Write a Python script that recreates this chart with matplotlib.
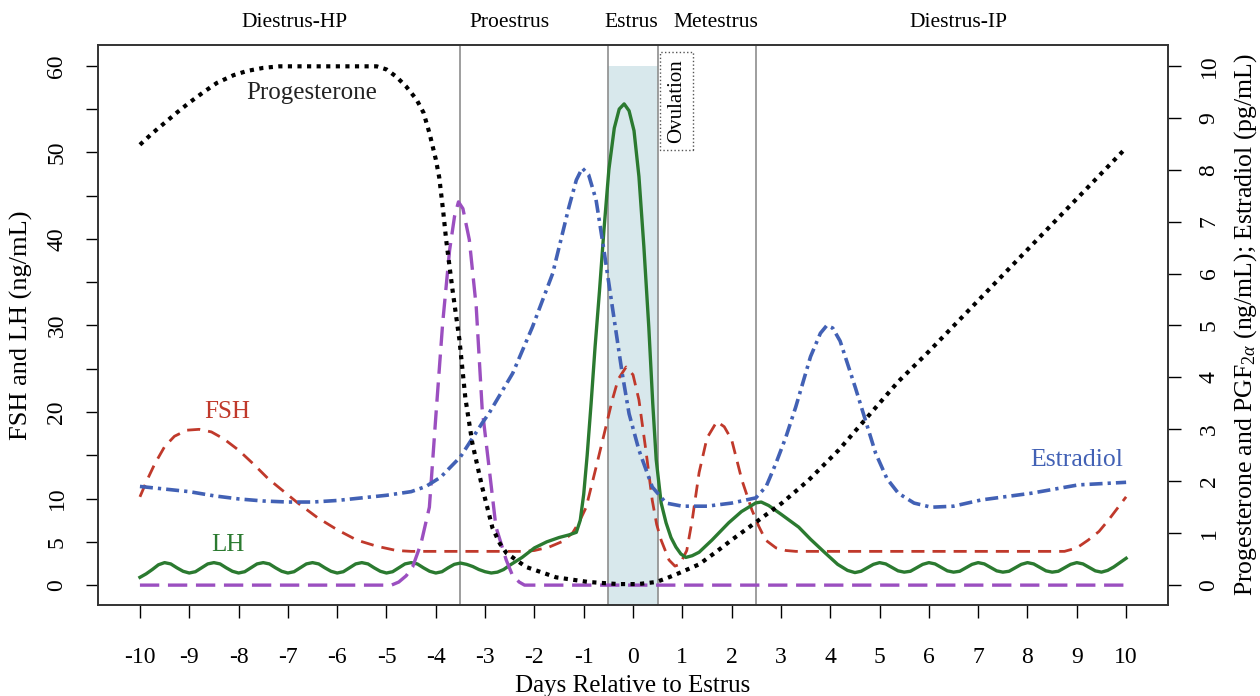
import numpy as np
import matplotlib
matplotlib.use('Agg')
import matplotlib.pyplot as plt
from matplotlib.transforms import blended_transform_factory

plt.rcParams['font.family'] = ['Liberation Serif', 'DejaVu Serif']
plt.rcParams['mathtext.fontset'] = 'custom'
plt.rcParams['mathtext.rm'] = 'Liberation Serif'
plt.rcParams['mathtext.it'] = 'Liberation Serif:italic'

# ---- data ----
day_ticks = list(range(-10, 11))
phase_names = ['Diestrus-HP', 'Proestrus', 'Estrus', 'Metestrus', 'Diestrus-IP']
phase_label_x = [-6.87, -2.51, -0.04, 1.68, 6.6]
phase_bounds = [-3.5, -0.5, 0.5, 2.5]

# FSH (ng/mL, left axis)
fsh_x = [-10, -9.85, -9.7, -9.5, -9.3, -9.05, -8.8, -8.55, -8.3, -8.0, -7.7, -7.4, -7.1, -6.8,
         -6.4, -6.0, -5.6, -5.2, -4.8, -4.5, -2.2, -2.0, -1.7, -1.45, -1.23, -1.1, -0.95, -0.75,
         -0.55, -0.42, -0.3, -0.14, 0.0, 0.12, 0.26, 0.39, 0.48, 0.57, 0.73, 0.85, 0.95, 1.09,
         1.2, 1.34, 1.5, 1.7, 1.85, 2.0, 2.21, 2.41, 2.55, 2.69, 2.9, 3.1, 3.3, 8.75, 9.0, 9.23,
         9.45, 9.64, 9.8, 10]
fsh_y = [10.2, 12.2, 14.0, 16.0, 17.2, 17.9, 18.0, 17.7, 16.9, 15.6, 14.0, 12.3, 10.9, 9.5,
         7.8, 6.4, 5.2, 4.5, 4.0, 3.9, 3.9, 4.0, 4.4, 5.0, 6.0, 7.2, 9.0, 13.6,
         18.3, 21.4, 23.8, 25.2, 24.3, 21.4, 15.6, 9.8, 7.0, 5.2, 2.9, 2.2, 2.4, 4.0,
         7.5, 13.0, 17.0, 18.9, 18.3, 16.8, 12.1, 8.7, 6.8, 5.2, 4.3, 4.0, 3.9, 3.9, 4.3, 5.2,
         6.2, 7.5, 8.7, 10.2]

# LH (ng/mL, left axis)
lh_x = list(np.arange(-10, -3.49, 0.125)) + \
       [-3.375, -3.25, -3.125, -3.0, -2.875, -2.75, -2.625, -2.5, -2.25, -2.0, -1.75, -1.5, -1.3,
        -1.15, -1.07, -1.0, -0.93, -0.85, -0.77, -0.68, -0.59, -0.49, -0.38, -0.28, -0.18, -0.08,
        0.02, 0.12, 0.22, 0.32, 0.4, 0.47, 0.57, 0.67, 0.77, 0.87, 0.97, 1.07, 1.2, 1.34, 1.6,
        1.94, 2.2, 2.49, 2.6, 2.75, 3.0, 3.36, 3.6, 3.9, 4.15, 4.35] + \
       list(np.arange(4.5, 10.01, 0.125))
lh_y = [0.9, 1.3, 1.8, 2.35, 2.6, 2.45, 2.0, 1.6,
        1.4, 1.55, 2.0, 2.45, 2.6, 2.45, 2.0, 1.6,
        1.4, 1.55, 2.0, 2.45, 2.6, 2.45, 2.0, 1.6,
        1.4, 1.55, 2.0, 2.45, 2.6, 2.45, 2.0, 1.6,
        1.4, 1.55, 2.0, 2.45, 2.6, 2.45, 2.0, 1.6,
        1.4, 1.55, 2.0, 2.45, 2.6, 2.45, 2.0, 1.6,
        1.4, 1.55, 2.0, 2.4, 2.55,
        2.4, 2.15, 1.8, 1.55, 1.4, 1.5, 1.8, 2.3, 3.2, 4.3, 5.0, 5.5, 5.8,
        6.1, 7.5, 10.5, 15.0, 21.0, 27.5, 34.0, 41.0, 48.0, 52.8, 55.0, 55.6, 54.8,
        52.5, 47.2, 39.1, 29.8, 21.0, 14.5, 9.5, 7.2, 5.5, 4.4, 3.6, 3.2, 3.4, 3.8, 5.2,
        7.2, 8.5, 9.5, 9.6, 9.2, 8.2, 6.7, 5.3, 3.7, 2.4, 1.7,
        1.45, 1.6, 2.0, 2.4, 2.6, 2.45, 2.05, 1.65,
        1.5, 1.6, 2.0, 2.4, 2.6, 2.45, 2.05, 1.65,
        1.5, 1.6, 2.0, 2.4, 2.6, 2.45, 2.05, 1.65,
        1.5, 1.6, 2.0, 2.4, 2.6, 2.45, 2.05, 1.65,
        1.5, 1.6, 2.0, 2.4, 2.6, 2.45, 2.05, 1.65,
        1.5, 1.7, 2.1, 2.6, 3.1]

# Progesterone (ng/mL, right axis)
p4_x = [-10, -9.75, -9.5, -9.25, -9.0, -8.7, -8.44, -8.1, -7.83, -7.5, -7.17, -5.2, -5.0, -4.8,
        -4.6, -4.39, -4.25, -4.13, -4.0, -3.93, -3.85, -3.79, -3.66, -3.52, -3.4, -3.26, -3.06,
        -2.85, -2.7, -2.57, -2.17, -1.56, -0.9, -0.3, 0.1, 0.47, 0.7, 0.93, 1.34, 1.7, 2.0,
        2.49, 3.02, 3.56, 4.17, 4.72, 5.38, 6, 7, 8, 9, 10]
p4_y = [8.48, 8.7, 8.9, 9.1, 9.29, 9.5, 9.67, 9.82, 9.9, 9.96, 9.99, 9.99, 9.93, 9.79,
        9.6, 9.35, 9.1, 8.71, 8.2, 7.85, 7.2, 6.65, 5.68, 4.72, 3.6, 2.74, 1.89,
        1.1, 0.8, 0.62, 0.35, 0.15, 0.06, 0.02, 0.02, 0.06, 0.14, 0.23, 0.4, 0.65, 0.87,
        1.21, 1.58, 2.02, 2.6, 3.2, 3.92, 4.5, 5.48, 6.46, 7.44, 8.42]

# Estradiol (pg/mL, right axis)
e2_x = [-10, -9.5, -9.0, -8.5, -8.0, -7.5, -7.0, -6.5, -6.0, -5.5, -5.0, -4.5, -4.2, -3.9, -3.5,
        -3.06, -2.92, -2.44, -2.04, -1.63, -1.3, -1.15, -1.03, -0.9, -0.75, -0.59, -0.42, -0.22,
        -0.08, 0.12, 0.39, 0.67, 1.0, 1.5, 2.0, 2.49, 2.7, 2.9, 3.1, 3.3, 3.6, 3.8, 3.93, 4.05,
        4.2, 4.51, 4.92, 5.15, 5.38, 5.7, 6.05, 6.5, 7.06, 8.08, 9.03, 10]
e2_y = [1.9, 1.85, 1.8, 1.72, 1.66, 1.62, 1.6, 1.6, 1.63, 1.68, 1.73, 1.8, 1.9, 2.08, 2.47,
        3.12, 3.31, 4.08, 4.97, 6.0, 7.28, 7.8, 8.03, 7.9, 7.42, 6.45, 5.36, 4.08,
        3.3, 2.6, 1.89, 1.58, 1.52, 1.52, 1.58, 1.68, 1.9, 2.35, 2.85, 3.43, 4.4, 4.85, 5.0, 4.95,
        4.7, 3.8, 2.54, 2.05, 1.77, 1.58, 1.5, 1.52, 1.64, 1.77, 1.93, 1.98]

# PGF2a (ng/mL, right axis)
pgf_x = [-10, -4.9, -4.75, -4.6, -4.47, -4.3, -4.13, -4.0, -3.86, -3.72, -3.62, -3.54, -3.45,
         -3.32, -3.18, -3.06, -2.92, -2.78, -2.57, -2.45, -2.31, -2.2, 10]
pgf_y = [0, 0, 0.06, 0.18, 0.35, 0.8, 1.5, 3.24, 5.05, 6.45, 7.1, 7.38, 7.25,
         6.65, 5.36, 3.4, 2.27, 1.12, 0.48, 0.2, 0.06, 0, 0]

# ---- figure ----
fig = plt.figure(figsize=(12.6, 6.96), dpi=100)
ax = fig.add_axes([0.0778, 0.1307, 0.8492, 0.8046])
ylo, yhi = -2.3, 62.4
ax.set_xlim(-10.85, 10.85)
ax.set_ylim(ylo, yhi)

# estrus shading and phase boundaries
ax.axvspan(-0.5, 0.5, ymin=0, ymax=(60 - ylo) / (yhi - ylo), color='#d8e8ec', lw=0, zorder=0)
for b in phase_bounds:
    ax.axvline(b, color='#8e8e8e', lw=1.2, zorder=1)

c_fsh = '#c0392b'
c_lh = '#2b7a30'
c_e2 = '#4261b5'
c_pgf = '#9b4fc0'

ax.plot(fsh_x, fsh_y, color=c_fsh, lw=2.0, ls=(0, (4.7, 2.9)), zorder=3)
ax.plot(lh_x, lh_y, color=c_lh, lw=2.4, zorder=4)

ax2 = ax.twinx()
ax2.set_ylim(ylo / 6, yhi / 6)
ax2.plot(pgf_x, pgf_y, color=c_pgf, lw=2.4, ls=(0, (5.8, 2.6)))
ax2.plot(e2_x, e2_y, color=c_e2, lw=2.6, ls=(0, (3.6, 1.4, 0.9, 1.4)))
ax2.plot(p4_x, p4_y, color='black', lw=3.0, ls=(0, (1, 1.3)))

# ticks
ax.set_xticks(day_ticks)
ax.set_xticklabels([str(d) for d in day_ticks])
ax.set_yticks([0, 5, 10, 15, 20, 25, 30, 35, 40, 45, 50, 55, 60])
ax.set_yticklabels(['0', '5', '10', '', '20', '', '30', '', '40', '', '50', '', '60'])
ax2.set_yticks(range(0, 11))
ax.tick_params(axis='x', length=9, width=1, pad=21, labelsize=17)
ax.tick_params(axis='y', length=9, width=1, pad=13, labelsize=17, labelrotation=90)
ax2.tick_params(axis='y', length=9, width=1, pad=13, labelsize=17, labelrotation=90)
for t in ax.get_yticklabels() + ax2.get_yticklabels():
    t.set_va('center')

for a in (ax, ax2):
    for s in a.spines.values():
        s.set_color('#333333')
        s.set_linewidth(1.2)

ax.set_xlabel('Days Relative to Estrus', fontsize=18, labelpad=5)
ax.set_ylabel('FSH and LH (ng/mL)', fontsize=19, labelpad=10)
ax2.set_ylabel('Progesterone and PGF$_{2\\alpha}$ (ng/mL); Estradiol (pg/mL)', fontsize=18.5,
               labelpad=9)

# phase names above the plot
trans = blended_transform_factory(ax.transData, ax.transAxes)
for name, px in zip(phase_names, phase_label_x):
    ax.text(px, 1.041, name, transform=trans, ha='center', va='center', fontsize=15.5)

# curve labels
ax.text(-6.52, 56.9, 'Progesterone', ha='center', va='center', fontsize=18, color='#222222')
ax.text(-8.22, 20.0, 'FSH', ha='center', va='center', fontsize=18, color=c_fsh)
ax.text(-8.22, 4.6, 'LH', ha='center', va='center', fontsize=18, color=c_lh)
ax.text(8.99, 14.5, 'Estradiol', ha='center', va='center', fontsize=18.5, color=c_e2)

ax.text(0.88, 55.9, 'Ovulation', rotation=90, ha='center', va='center', fontsize=15, zorder=6,
        bbox=dict(boxstyle='square,pad=0.35', fc='white', ec='#555555', ls=':', lw=1.0))

fig.savefig('out.png', dpi=100)
